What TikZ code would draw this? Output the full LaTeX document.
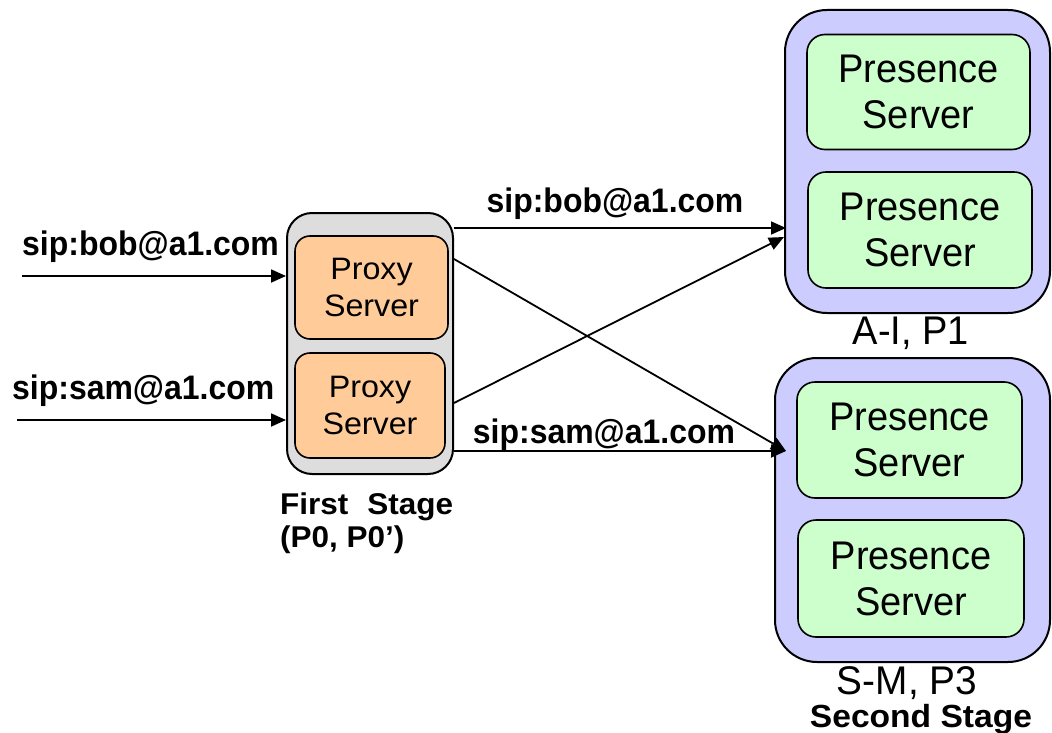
\documentclass[tikz,border=0pt]{standalone}
\usepackage{fontspec}
\usepackage{graphicx}
\setmainfont{Liberation Sans}
\usetikzlibrary{arrows.meta,calc}

\definecolor{stagegrey}{HTML}{DDDDDD}
\definecolor{proxyfill}{HTML}{FFCC99}
\definecolor{clusterfill}{HTML}{CCCCFF}
\definecolor{presfill}{HTML}{CCFFCC}

% horizontal stretch of a piece of text
\newcommand{\sx}[2]{\scalebox{#1}[1]{#2}}

\tikzset{
  stagebox/.style={draw=black, line width=2pt, fill=stagegrey, rounded corners=25pt, inner sep=0pt},
  proxybox/.style={draw=black, line width=1.6pt, fill=proxyfill, rounded corners=15pt, inner sep=0pt,
    align=center, font=\fontsize{31}{37}\selectfont},
  clusterbox/.style={draw=black, line width=2pt, fill=clusterfill, rounded corners=42pt, inner sep=0pt},
  presbox/.style={draw=black, line width=1.6pt, fill=presfill, rounded corners=18pt, inner sep=0pt,
    align=center, font=\fontsize{40}{46}\selectfont},
  siplabel/.style={inner sep=0pt, font=\fontsize{34}{40}\selectfont\bfseries},
  plainlabel/.style={inner sep=0pt, font=\fontsize{40}{44}\selectfont},
  boldlabel/.style={inner sep=0pt, font=\fontsize{30}{36}\selectfont\bfseries},
  msg/.style={draw=black, line width=1.8pt, -{Triangle[length=15pt,width=13pt]}}
}

\begin{document}
\begin{tikzpicture}[x=1pt, y=-1pt]
\useasboundingbox (0,0) rectangle (1052,733);

% first stage: two proxy servers
\node[stagebox, minimum width=166pt, minimum height=261pt] (stage) at (370,343.5) {};
\node[proxybox, minimum width=153pt, minimum height=103pt] (proxyA) at (371.5,287.5)
  {\sx{1.04}{Proxy}\\\sx{1.04}{Server}};
\node[proxybox, minimum width=150pt, minimum height=105pt] (proxyB) at (370,405.5)
  {\sx{1.04}{Proxy}\\\sx{1.04}{Server}};
\node[boldlabel, anchor=base west] (stageA) at (280,514) {\sx{1.05}{First\hspace{18pt}Stage}};
\node[boldlabel, anchor=base west] (stageB) at (280,547) {\sx{1.05}{(P0, P0’)}};

% second stage: cluster A-I
\node[clusterbox, minimum width=265pt, minimum height=303pt] (clusterAI) at (917.5,161.5) {};
\node[presbox, minimum width=223pt, minimum height=115pt] (presA) at (918.5,92)
  {\sx{0.95}{Presence}\\\sx{0.95}{Server}};
\node[presbox, minimum width=224pt, minimum height=116pt] (presB) at (920,230)
  {\sx{0.95}{Presence}\\\sx{0.95}{Server}};
\node[plainlabel, anchor=base] (labAI) at (911,344) {\sx{0.95}{A-I, P1}};

% second stage: cluster S-M
\node[clusterbox, minimum width=275pt, minimum height=304pt] (clusterSM) at (912.5,510) {};
\node[presbox, minimum width=225pt, minimum height=116pt] (presC) at (909.5,440)
  {\sx{0.95}{Presence}\\\sx{0.95}{Server}};
\node[presbox, minimum width=226pt, minimum height=117pt] (presD) at (911,578.5)
  {\sx{0.95}{Presence}\\\sx{0.95}{Server}};
\node[plainlabel, anchor=base] (labSM) at (907,694) {\sx{0.97}{S-M, P3}};
\node[boldlabel, anchor=base] (labSecond) at (921,727) {\sx{1.05}{\fontsize{32}{38}\selectfont Second Stage}};

% request labels
\node[siplabel, anchor=base west] (inBob) at (22,255) {\sx{0.94}{sip:bob@a1.com}};
\node[siplabel, anchor=base west] (inSam) at (12,399) {\sx{0.94}{sip:sam@a1.com}};
\node[siplabel, anchor=base] (outBob) at (615,212) {\sx{0.94}{sip:bob@a1.com}};
\node[siplabel, anchor=base] (outSam) at (604,443) {\sx{0.94}{sip:sam@a1.com}};

% incoming requests
\coordinate (srcBob) at (22,276);
\coordinate (srcSam) at (17,420);
\draw[msg] (srcBob) -- (stage.west |- srcBob);
\draw[msg] (srcSam) -- (stage.west |- srcSam);

% forwarding from the first stage to the second stage
\draw[msg] (stage.east |- 0,228) -- ($(clusterAI.west |- 0,228)+(2,0)$);
\draw[msg] (stage.east |- 0,259) -- ($(clusterSM.west |- 0,451)+(12,0)$);
\draw[msg] (stage.east |- 0,403) -- (clusterAI.west |- 0,237);
\draw[msg] (stage.east |- 0,451) -- ($(clusterSM.west |- 0,451)+(12,0)$);
\end{tikzpicture}
\end{document}
